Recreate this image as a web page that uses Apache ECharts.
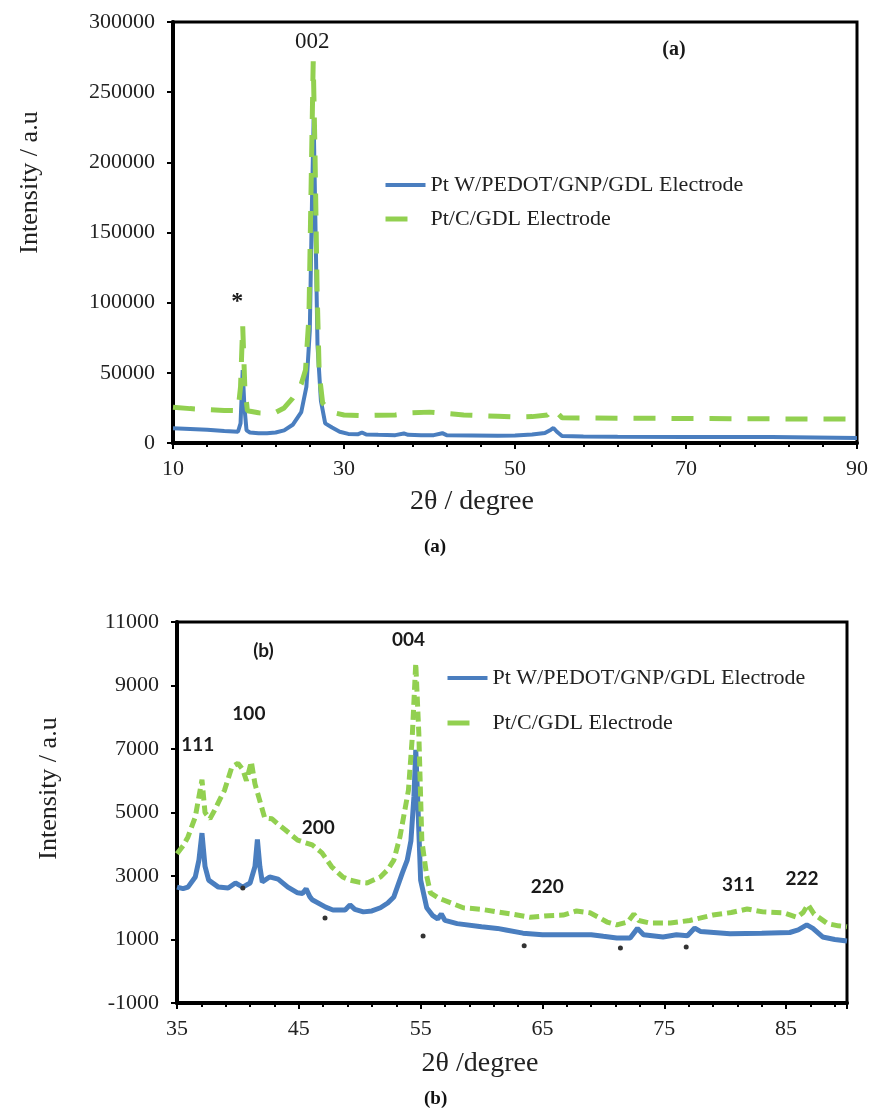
<!DOCTYPE html>
<html>
<head>
<meta charset="utf-8">
<script src="https://cdn.jsdelivr.net/npm/echarts@6/dist/echarts.min.js"></script>
<style>html,body{margin:0;padding:0;background:#fff;}</style>
</head>
<body>
<div id="main" style="width:873px;height:1116px;"></div>
<script>
// names
var nameBlue = 'Pt W/PEDOT/GNP/GDL Electrode';
var nameGreen = 'Pt/C/GDL Electrode';

// (a) full scan, [2theta, intensity]
var blueA = [[10,10500],[12,10000],[14,9500],[16,8500],[17.6,8000],[17.9,14000],[18.15,52000],[18.35,26000],[18.6,9000],[19,7500],[20,7000],[21,7000],[22,7500],[23,9000],[24,13000],[25,22000],[25.6,40000],[26,80000],[26.25,170000],[26.45,231000],[26.65,160000],[26.9,70000],[27.3,30000],[27.8,14000],[28.6,11000],[29.5,8000],[30.5,6500],[31.6,6200],[32.1,7500],[32.6,6000],[34,5800],[36,5600],[37,6800],[37.5,5800],[39,5500],[40.5,5600],[41.5,7000],[42,5600],[45,5400],[48,5200],[50,5400],[52,6000],[53.5,7200],[54.2,9500],[54.5,10700],[54.9,8000],[55.5,5000],[58,4600],[62,4400],[70,4300],[80,4200],[90,3500]];
var greenA = [[10,25500],[12,24500],[14,23800],[16,23200],[17.6,23000],[17.9,40000],[18.15,84000],[18.4,40000],[18.7,23000],[20,21500],[21,21300],[22,21800],[23,25000],[24,32000],[25,42000],[25.5,52000],[25.9,90000],[26.2,200000],[26.4,272000],[26.6,210000],[26.85,110000],[27.1,50000],[27.5,28500],[28.5,22000],[30,20000],[32,19500],[34,19800],[36,20000],[38,21500],[40,22000],[42,21000],[44,20000],[46,19500],[48,19000],[50,18500],[52,18800],[53.8,20000],[54.4,24500],[54.8,22500],[55.5,18000],[58,17800],[62,17700],[70,17500],[80,17200],[90,17000]];

// (b) zoomed scan
var blueB = [[35,2650],[35.5,2600],[35.9,2650],[36.5,2970],[36.8,3500],[37.05,4350],[37.3,3300],[37.6,2870],[38.4,2650],[39.2,2620],[39.8,2780],[40.4,2650],[41,2780],[41.4,3300],[41.6,4150],[41.8,3300],[42,2810],[42.6,2970],[43.3,2900],[44.1,2650],[44.9,2470],[45.3,2450],[45.6,2600],[45.9,2350],[46.1,2250],[47.2,2020],[47.8,1930],[48.8,1930],[49.2,2090],[49.6,1950],[50.3,1870],[51,1900],[51.7,2000],[52.3,2150],[52.8,2340],[53.5,3100],[53.9,3500],[54.2,4100],[54.45,5500],[54.6,6970],[54.75,5500],[55,2870],[55.5,2000],[56,1750],[56.4,1650],[56.7,1800],[57,1600],[58,1500],[60,1400],[61.3,1350],[62,1300],[63.4,1200],[65,1150],[67,1150],[69,1150],[70,1100],[71.1,1050],[72.2,1050],[72.8,1350],[73.3,1150],[74.9,1080],[76,1150],[76.9,1120],[77.5,1360],[78,1250],[80.4,1180],[83,1200],[85.3,1220],[86,1300],[86.7,1460],[87.2,1350],[88,1080],[89,1000],[90,950]];
var greenB = [[35,3700],[35.5,3950],[35.9,4230],[36.5,4860],[36.8,5500],[37.05,6030],[37.3,5000],[37.7,4800],[38.1,5080],[38.5,5400],[38.9,5700],[39.5,6430],[40,6550],[40.4,6350],[40.7,6000],[41.1,6600],[41.4,5900],[41.7,5500],[42.2,4830],[42.8,4800],[43.4,4600],[43.9,4450],[44.9,4130],[46.1,3980],[46.9,3730],[47.7,3290],[48.6,2970],[49.2,2870],[50,2800],[50.6,2780],[51.7,2970],[52.3,3200],[52.8,3500],[53.3,4230],[54,5700],[54.3,7300],[54.6,9700],[54.85,7500],[55.1,4100],[55.5,3000],[55.8,2470],[56.5,2300],[57.5,2150],[58.5,2000],[60,1950],[61.3,1870],[62.5,1800],[64,1700],[65.5,1750],[66.7,1770],[67.8,1900],[68.9,1840],[69.6,1700],[70.3,1550],[71.1,1460],[72,1550],[72.5,1800],[72.9,1600],[73.8,1520],[75.5,1520],[77.1,1600],[79,1770],[80.5,1850],[81.8,1960],[83.1,1870],[84.8,1840],[85.9,1700],[86.4,1850],[86.8,2100],[87.3,1800],[88.4,1500],[89.3,1430],[90,1400]];

// peak annotations [2theta, intensity, text]
var peaksA = [[26.3,285700,'002'],[17.5,100500,'*'],[68.6,280000,'(a)']];
var peaksB = [[42.1,10100,'(b)'],[54.0,10430,'004'],[40.9,8100,'100'],[36.7,7130,'111'],[46.6,4510,'200'],[65.4,2650,'220'],[81.1,2720,'311'],[86.3,2900,'222']];
var starsB = [[47.15,1680],[55.2,1110],[63.5,800],[71.4,730],[76.8,760],[40.4,2620]];

var SERIF = "'Liberation Serif', 'Times New Roman', serif";
var SANS = "Lato, 'Open Sans', sans-serif";
var BLUE = '#4a7ebf';
var GREEN = '#92d050';

function xAxisOf(idx, min, max, step, name, gap, shift) {
  return {
    gridIndex: idx, type: 'value', min: min, max: max, interval: step,
    name: name, nameLocation: 'middle', nameGap: gap,
    nameTextStyle: {fontFamily: SERIF, fontSize: 28, color: '#222', padding: [0, shift, 0, 0]},
    axisLine: {onZero: false, lineStyle: {color: '#000', width: 4}},
    axisTick: {length: 6, lineStyle: {color: '#000', width: 2}},
    minorTick: {show: true, splitNumber: 5, length: 4, lineStyle: {color: '#000', width: 2}},
    splitLine: {show: false},
    axisLabel: {fontFamily: SERIF, fontSize: 22, color: '#222', margin: 15,
      formatter: function (v) { return v === 90 && idx === 1 ? '' : String(v); }}
  };
}
function yAxisOf(idx, min, max, step, gap, shift) {
  return {
    gridIndex: idx, type: 'value', min: min, max: max, interval: step,
    name: 'Intensity / a.u', nameLocation: 'middle', nameGap: gap,
    nameTextStyle: {fontFamily: SERIF, fontSize: 26, color: '#222', padding: [0, 0, 0, shift]},
    axisLine: {onZero: false, lineStyle: {color: '#000', width: 4}},
    axisTick: {length: 6, lineStyle: {color: '#000', width: 2}},
    splitLine: {show: false},
    axisLabel: {fontFamily: SERIF, fontSize: 22, color: '#222', margin: 18,
      formatter: function (v) { return String(v); }}
  };
}
function labelPoints(list, font, size, weight) {
  return list.map(function (p) {
    return {coord: [p[0], p[1]], value: p[2], symbolSize: 0,
      label: {show: true, position: 'inside', formatter: p[2], fontFamily: font, fontSize: size, fontWeight: weight, color: '#1a1a1a'}};
  });
}
function legendOf(left, top, gap) {
  return {
    data: [
      {name: nameBlue, lineStyle: {width: 4}},
      {name: nameGreen, lineStyle: {width: 5, type: [22, 40]}}
    ],
    orient: 'vertical', left: left, top: top,
    itemWidth: 40, itemHeight: 14, itemGap: gap,
    itemStyle: {opacity: 0},
    textStyle: {fontFamily: SERIF, fontSize: 22, color: '#222'}
  };
}

var chart = echarts.init(document.getElementById('main'));
var option = {
  animation: false,
  backgroundColor: '#fff',
  grid: [
    {left: 173, top: 22, width: 684, height: 421, show: true, borderColor: '#000', borderWidth: 3},
    {left: 177, top: 622, width: 670, height: 381, show: true, borderColor: '#000', borderWidth: 3}
  ],
  xAxis: [
    xAxisOf(0, 10, 90, 20, '2θ / degree', 45, 86),
    xAxisOf(1, 35, 90, 10, '2θ /degree', 47, 64)
  ],
  yAxis: [
    yAxisOf(0, 0, 300000, 50000, 130, 100),
    yAxisOf(1, -1000, 11000, 2000, 115, 48)
  ],
  legend: [legendOf(378, 169, 12), legendOf(440, 662, 23)],
  graphic: [
    {type: 'text', left: 424, top: 538, style: {text: '(a)', font: 'bold 19px ' + SERIF, fill: '#111'}},
    {type: 'text', left: 424, top: 1090, style: {text: '(b)', font: 'bold 19px ' + SERIF, fill: '#111'}}
  ],
  series: [
    {name: nameBlue, type: 'line', xAxisIndex: 0, yAxisIndex: 0, data: blueA, symbol: 'none',
      lineStyle: {color: BLUE, width: 4}, itemStyle: {color: BLUE},
      markPoint: {symbol: 'circle', data: labelPoints([peaksA[0]], SERIF, 23, 'normal')
        .concat(labelPoints([peaksA[1]], SERIF, 24, 'bold'))
        .concat(labelPoints([peaksA[2]], SERIF, 20, 'bold'))}},
    {name: nameGreen, type: 'line', xAxisIndex: 0, yAxisIndex: 0, data: greenA, symbol: 'none',
      lineStyle: {color: GREEN, width: 5, type: [22, 16]}, itemStyle: {color: GREEN}},
    {name: nameBlue, type: 'line', xAxisIndex: 1, yAxisIndex: 1, data: blueB, symbol: 'none',
      lineStyle: {color: BLUE, width: 5}, itemStyle: {color: BLUE},
      markPoint: {symbol: 'circle',
        data: labelPoints(peaksB, SANS, 19, 'bold').concat(starsB.map(function (s) {
          return {coord: s, symbolSize: 5, itemStyle: {color: '#333'}, label: {show: false}};
        }))}},
    {name: nameGreen, type: 'line', xAxisIndex: 1, yAxisIndex: 1, data: greenB, symbol: 'none',
      lineStyle: {color: GREEN, width: 5, type: [10, 5]}, itemStyle: {color: GREEN}}
  ]
};
chart.setOption(option);
</script>
</body>
</html>
